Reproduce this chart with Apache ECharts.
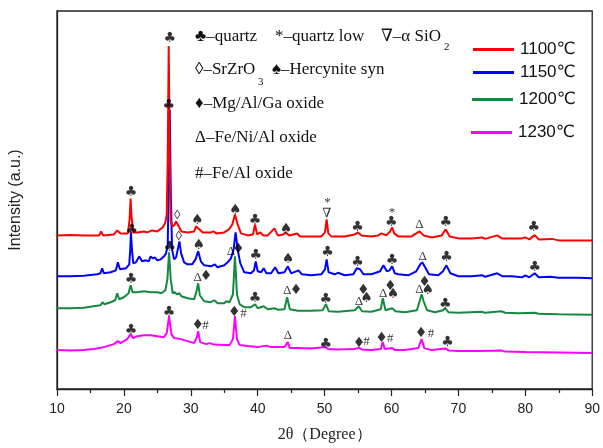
<!DOCTYPE html>
<html><head><meta charset="utf-8">
<script src="https://cdn.jsdelivr.net/npm/echarts@6/dist/echarts.min.js"></script>
<style>html,body{margin:0;padding:0;background:#fff}#c{width:603px;height:448px}</style>
</head><body><div id="c"></div>
<script>
// ---- data: [2θ (degree), intensity (a.u., offset traces)] ----
const seriesNames = ['1100℃', '1150℃', '1200℃', '1230℃'];
const seriesColors = ['#ff0000', '#0000ff', '#14893f', '#ff00ff'];
const xTicks = [10, 20, 30, 40, 50, 60, 70, 80, 90];

const trace1100 = [[10,154],[12,154.5],[14,154],[16.3,154],[16.6,158],[16.9,154],[18.5,155],[19.0,159],[19.5,156],[20.6,156],[20.85,170],[21.0,191],[21.15,172],[21.4,157],[22,157],[23,158],[23.5,157],[24.2,159],[25,158],[25.8,162],[26.2,167],[26.4,175],[26.55,230],[26.7,344],[26.85,230],[27.0,168],[27.3,163],[27.6,165],[27.8,168],[28.0,168],[28.2,163],[28.6,158],[29.5,157],[30.5,158],[30.8,163],[31.0,165],[31.3,160],[31.8,157],[33.0,157],[33.4,158],[33.8,156],[35.0,157],[35.7,160],[36.2,165],[36.6,175],[37.0,165],[37.5,156],[38.5,154],[39.3,155],[39.6,165],[39.9,155],[40.4,157],[40.8,154],[41.5,154],[42.5,161],[43,154],[43.8,155],[44.2,157],[44.7,154],[45.9,156],[46.3,153],[48,153],[49.5,153],[50.05,157],[50.3,170],[50.55,156],[51,153],[53,153],[54.5,155],[55.0,157],[55.5,154],[57,153],[58.0,154],[58.5,156],[59.2,154],[59.8,158],[60.1,162],[60.4,156],[61,153],[63,153],[63.7,156],[64.2,158],[64.8,154],[66,152],[67.5,154],[68.1,160],[68.7,153],[70,151],[72,151],[73.6,152],[74,150.5],[75.8,154],[76.5,151],[78,151],[79.5,151],[80.0,152],[80.6,150],[81.4,154.3],[82,150],[84,150.5],[85,149],[88,149],[90,149]];

const trace1150 = [[10,113],[12,113],[14,113.5],[16,115],[16.5,116],[16.75,121],[17.0,116],[18,117],[18.8,119],[19.1,127],[19.4,120],[20.3,121],[20.8,125],[20.95,140],[21.05,157],[21.2,140],[21.4,126],[21.8,127],[22.3,133],[22.7,128],[23.3,129],[23.7,128],[24.0,133],[24.3,131],[24.6,132],[25.0,129],[25.5,130],[26.0,133],[26.3,136],[26.55,145],[26.7,200],[26.85,280],[27.0,200],[27.2,140],[27.5,130],[27.8,132],[28.05,140],[28.3,148],[28.55,136],[29,127],[29.5,125],[30.2,125],[30.7,130],[31.1,138],[31.5,128],[32,124],[33,123],[33.6,125],[34,122],[35,124],[35.5,127],[36.0,131],[36.4,140],[36.7,157],[37.0,140],[37.4,126],[38,117],[39.0,116],[39.45,119],[39.7,128],[40.0,118],[40.5,117],[40.9,121],[41.3,116],[42.0,116],[42.6,122],[43.1,116],[44.0,117],[44.5,123],[45.0,116],[46.1,119],[46.6,115],[48,114],[49.5,115],[50.05,120],[50.3,130],[50.6,117],[51.5,115],[52,116.5],[53,114],[54.3,115],[54.8,121],[55.3,120],[55.8,115],[57,115],[58.3,118],[58.8,124],[59.3,118],[59.7,119],[60.1,123],[60.5,116],[61,115],[62.5,114],[63.7,118],[64.3,125],[64.6,127],[65.1,121],[65.6,115],[67,114],[67.7,118],[68.2,124],[68.8,116],[70,113],[72,113],[73.6,114],[74,112.5],[75.8,116],[76.6,113],[78,113],[79.5,112],[80.0,114],[80.6,112],[81.4,116],[82,112],[83.7,112.5],[85,111.5],[88,111.5],[90,111]];

const trace1200 = [[10,81],[12,81],[14,81.5],[15.5,83],[16.5,84],[16.8,87],[17.1,85],[18,87],[18.7,89],[19.0,96],[19.3,90],[20,92],[20.7,96],[21.0,104],[21.3,97],[22,97],[23,98],[24,97],[25,97],[25.6,96],[26.2,99],[26.5,110],[26.75,137],[27.0,110],[27.3,96],[27.6,97],[27.9,95],[28.3,96],[28.6,93],[29.5,91],[30.5,90],[30.85,98],[31.1,106],[31.35,94],[32,88],[33,87],[33.5,89],[34,86],[35,86],[35.3,88],[35.8,87],[36.3,95],[36.6,133],[36.9,95],[37.3,85],[38,82],[39,82],[39.6,85],[40,81],[40.9,83],[41.5,80],[42.5,81],[43,79.5],[44,80],[44.4,92],[44.8,80],[46,78.5],[48,78.5],[49.7,79],[50.2,85],[50.6,78],[52,77.5],[54.5,79],[55.1,83],[55.6,78],[57,77.5],[58.4,80],[58.7,91],[59.1,79],[60.1,81],[60.6,78],[62,77],[63.8,79],[64.2,88],[64.5,95],[64.8,88],[65.3,79],[66.5,77],[67.7,79],[68.0,81],[68.5,77],[70,76.5],[73.4,77.5],[74,76.5],[76.4,78],[77,76.5],[79,76],[81.4,76.5],[82,75.5],[85,75],[90,74.5]];

const trace1230 = [[10,39],[12,38.5],[14,39],[15.5,40],[17,42],[18.5,45],[19.1,48],[19.5,46],[20.5,50],[21.0,55],[21.4,51],[22,53],[23,54],[24,54],[25,53],[26,52],[26.4,56],[26.75,73],[27.1,55],[27.5,51],[28.5,50],[29.5,48],[30.5,46],[30.9,52],[31.1,58],[31.4,47],[32.3,45],[32.8,46],[33.5,44.5],[35,44],[35.8,44],[36.3,50],[36.6,73],[36.9,50],[37.3,44],[38.5,43],[40,42],[41.3,43.5],[42,42],[44,42],[44.5,47],[44.8,41],[46,41],[48,40.5],[50.2,42],[50.5,40],[52,39.5],[54.5,40],[55.1,41.5],[55.6,39.5],[57,39],[58.4,40],[58.7,47],[59.0,40],[60.1,41],[60.5,39],[62,39],[64.0,41],[64.5,50],[64.9,41],[66,39],[68.1,40.5],[68.6,38.5],[70,38],[73,38],[76.5,38.5],[77,37.5],[80,37],[85,36.5],[90,36]];

// ---- peak markers: [2θ, intensity, symbol] ----
const marks1100 = [[26.84,352,'♣'],[21.05,197,'♣'],[27.98,173.5,'◊'],[30.95,169.3,'♠'],[36.63,179.3,'♠'],[39.6,169.3,'♣'],[44.24,160,'♠'],[50.43,186.7,'*'],[50.33,176,'∇'],[54.93,162.3,'♣'],[60.07,176.7,'*'],[59.97,166.7,'♣'],[64.18,165,'Δ'],[68.13,167.3,'♣'],[81.25,161.7,'♣']];
const marks1150 = [[26.69,284,'♣'],[21.16,159,'♣'],[28.18,153.3,'◊'],[31.19,144,'♠'],[36.0,138,'Δ'],[37.08,140,'♦'],[39.7,134,'♣'],[44.54,130,'♠'],[50.43,136.7,'♣'],[54.93,126.7,'♣'],[60.07,129,'♣'],[64.67,132.7,'Δ'],[68.24,131.7,'♣'],[81.4,122.3,'♣']];
const marks1200 = [[26.84,141.7,'♣'],[21.05,110,'♣'],[31.04,111.7,'Δ'],[32.28,112.7,'♦'],[39.6,90.7,'♣'],[44.39,98.3,'Δ'],[45.73,99,'♦'],[50.18,90,'♣'],[55.13,87.3,'Δ'],[55.77,99,'♦'],[56.26,91.3,'♠'],[58.74,95.7,'Δ'],[59.82,102.7,'♦'],[60.22,95,'♠'],[64.18,100,'Δ'],[64.93,106.7,'♦'],[65.42,99,'♠'],[68.04,85,'♣']];
const marks1230 = [[26.74,77.3,'♣'],[21.05,58.3,'♣'],[31.04,64.3,'♦'],[32.18,63.3,'#'],[36.48,77.3,'♦'],[37.86,76,'#'],[44.5,54,'Δ'],[50.18,45,'♣'],[55.13,46,'♦'],[56.26,47.7,'#'],[58.49,51,'♦'],[59.82,50.7,'#'],[64.42,55.7,'♦'],[65.9,56,'#'],[68.38,46.7,'♣']];

// ---- phase key text ----
const keyRows = [
  ['♣–quartz', 195, 37], ['*–quartz low', 275, 37], ['∇–α SiO', 381, 37],
  ['◊–SrZrO', 195, 70], ['♠–Hercynite syn', 272, 70],
  ['♦–Mg/Al/Ga oxide', 195, 104], ['Δ–Fe/Ni/Al oxide', 195, 138], ['#–Fe/Al oxide', 195, 174]
];
const keySubs = [['2', 444, 47], ['3', 258, 82]];
const legendRows = [[473, 50], [473, 73], [472, 100], [471, 133]];

const traces = [trace1100, trace1150, trace1200, trace1230];
const allMarks = [].concat(marks1100, marks1150, marks1200, marks1230);

const serif = '"Liberation Serif","Times New Roman","DejaVu Serif",serif';
const sans = '"Liberation Sans",Arial,"DejaVu Sans",sans-serif';
const suitSyms = '♣♠♦';

const chart = echarts.init(document.getElementById('c'), null, {renderer: 'canvas'});

const lineSeries = traces.map((d, i) => ({
  name: seriesNames[i], type: 'line', data: d, showSymbol: false, symbol: 'none',
  lineStyle: {color: seriesColors[i], width: 2}, itemStyle: {color: seriesColors[i]},
  z: 10 - i, animation: false, silent: true
})).reverse();

const markData = allMarks.map(m => ({
  value: m,
  label: suitSyms.indexOf(m[2]) >= 0
    ? {fontSize: 14, fontFamily: '"DejaVu Sans",sans-serif'}
    : {fontSize: 13, fontFamily: serif}
}));

const graphics = keyRows.map(r => ({
  type: 'text', x: r[1], y: r[2],
  style: {text: r[0], fontSize: 17, fontFamily: serif, fill: '#111', verticalAlign: 'middle', align: 'left'}
})).concat(keySubs.map(r => ({
  type: 'text', x: r[1], y: r[2],
  style: {text: r[0], fontSize: 11, fontFamily: serif, fill: '#111', verticalAlign: 'middle', align: 'left'}
})));

chart.setOption({
  animation: false,
  backgroundColor: '#fff',
  grid: {left: 57, right: 8, top: 11, bottom: 58, show: true, borderColor: '#222', borderWidth: 1.3, backgroundColor: 'transparent'},
  legend: seriesNames.map((n, i) => ({
    data: [n], left: legendRows[i][0], top: legendRows[i][1] - 9, padding: 0,
    icon: 'rect', itemWidth: 41, itemHeight: 3, itemGap: 4,
    textStyle: {fontSize: 17, fontFamily: sans, color: '#111', padding: [0, 0, 0, 1]},
    selectedMode: false
  })),
  xAxis: {
    type: 'value', min: 10, max: 90, interval: 10,
    axisLine: {show: true, onZero: false, lineStyle: {color: '#222', width: 1.3}},
    axisTick: {show: true, inside: false, length: 7, lineStyle: {color: '#222', width: 1.2}},
    minorTick: {show: true, splitNumber: 2, length: 4, lineStyle: {color: '#222', width: 1.2}},
    splitLine: {show: false},
    axisLabel: {fontSize: 14, color: '#222', margin: 13, fontFamily: sans,
      formatter: v => xTicks.indexOf(v) >= 0 ? String(v) : ''},
    name: '2θ（Degree）', nameLocation: 'middle', nameGap: 38,
    nameTextStyle: {fontFamily: serif, fontSize: 16, color: '#222'}
  },
  yAxis: {
    type: 'value', min: 0, max: 379,
    axisLine: {show: true, lineStyle: {color: '#222', width: 1.3}},
    axisTick: {show: false}, axisLabel: {show: false}, splitLine: {show: false},
    name: 'Intensity (a.u.)', nameLocation: 'middle', nameGap: 33,
    nameTextStyle: {fontFamily: sans, fontSize: 16, color: '#222'}
  },
  series: lineSeries.concat([{
    type: 'scatter', name: 'marks', data: markData, symbolSize: 1,
    itemStyle: {color: 'rgba(0,0,0,0)'}, silent: true, z: 20,
    label: {show: true, position: 'inside', formatter: p => p.value[2], color: '#000'}
  }]),
  graphic: graphics
});
</script></body></html>
